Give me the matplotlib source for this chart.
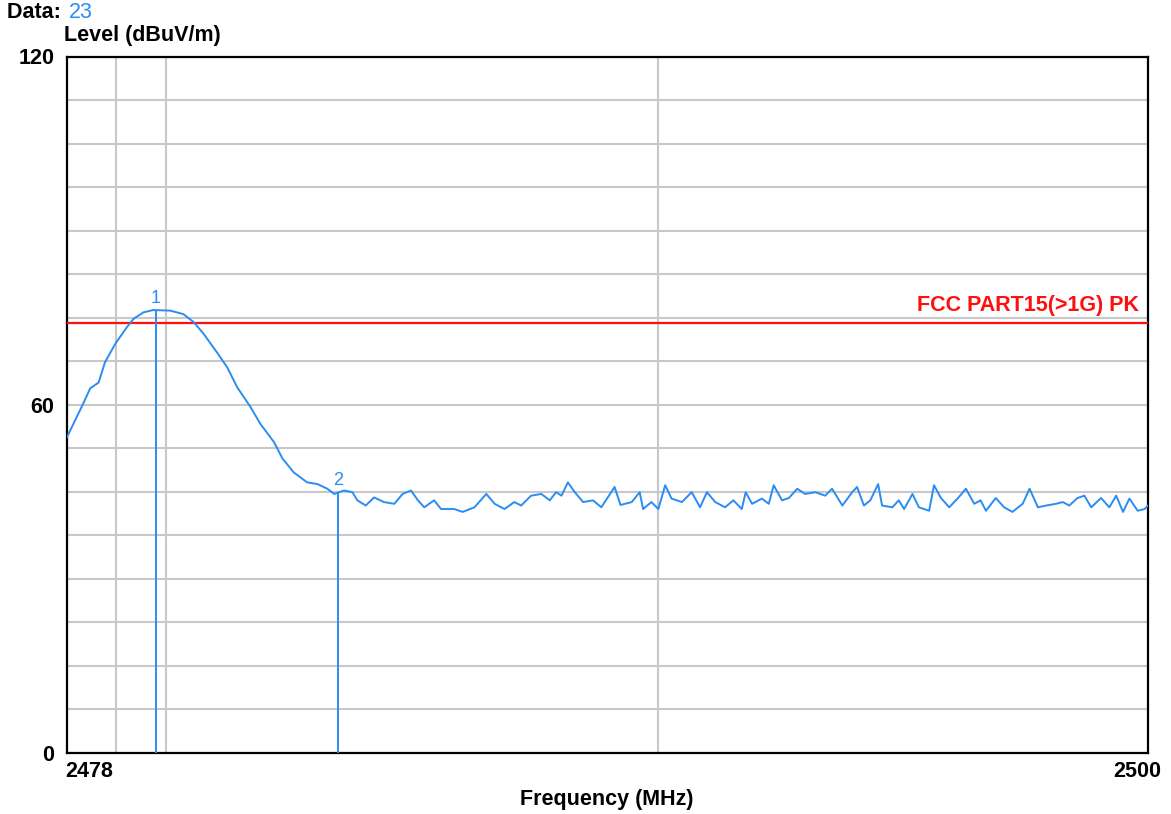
import matplotlib.pyplot as plt
from matplotlib.ticker import FixedLocator, NullLocator, NullFormatter
import numpy as np

plt.rcParams['font.family'] = ['Liberation Sans', 'DejaVu Sans']

# trace (MHz, dBuV/m)
freq = [2478.00, 2478.13, 2478.33, 2478.47, 2478.64, 2478.77, 2478.98, 2479.21,
        2479.35, 2479.55, 2479.75, 2480.09, 2480.36, 2480.57, 2480.77, 2481.04,
        2481.25, 2481.45, 2481.72, 2481.92, 2482.20, 2482.37, 2482.60, 2482.87,
        2483.08, 2483.28, 2483.42, 2483.62, 2483.79, 2483.89, 2484.06, 2484.23,
        2484.43, 2484.64, 2484.81, 2484.98, 2485.12, 2485.25, 2485.45, 2485.59,
        2485.86, 2486.03, 2486.27, 2486.51, 2486.68, 2486.88, 2487.08, 2487.22,
        2487.42, 2487.63, 2487.80, 2487.93, 2488.04, 2488.17, 2488.31, 2488.48,
        2488.68, 2488.85, 2489.12, 2489.24, 2489.47, 2489.63, 2489.70, 2489.87,
        2490.01, 2490.15, 2490.28, 2490.49, 2490.69, 2490.86, 2491.00, 2491.17,
        2491.37, 2491.54, 2491.71, 2491.79, 2491.92, 2492.12, 2492.26, 2492.36,
        2492.53, 2492.67, 2492.84, 2493.00, 2493.21, 2493.41, 2493.55, 2493.76,
        2493.96, 2494.06, 2494.20, 2494.33, 2494.49, 2494.57, 2494.78, 2494.91,
        2495.02, 2495.19, 2495.32, 2495.53, 2495.63, 2495.77, 2495.94, 2496.11,
        2496.28, 2496.45, 2496.58, 2496.69, 2496.89, 2497.06, 2497.23, 2497.44,
        2497.58, 2497.75, 2497.92, 2498.12, 2498.26, 2498.39, 2498.56, 2498.70,
        2498.84, 2499.04, 2499.21, 2499.35, 2499.49, 2499.62, 2499.79, 2499.93,
        2500.00]
level = [54.4, 56.7, 60.2, 62.8, 63.8, 67.3, 70.5, 73.3,
         74.8, 75.9, 76.3, 76.2, 75.6, 74.2, 72.2, 69.0,
         66.4, 63.0, 59.6, 56.7, 53.5, 50.7, 48.3, 46.6,
         46.3, 45.5, 44.6, 45.2, 44.9, 43.5, 42.6, 44.0,
         43.2, 42.9, 44.6, 45.2, 43.5, 42.3, 43.5, 42.0,
         42.0, 41.5, 42.3, 44.6, 42.9, 42.0, 43.2, 42.6,
         44.3, 44.6, 43.5, 44.9, 44.3, 46.6, 44.9, 43.2,
         43.5, 42.3, 45.8, 42.7, 43.2, 44.9, 42.0, 43.2,
         42.0, 46.1, 43.8, 43.2, 44.9, 42.3, 44.9, 43.2,
         42.3, 43.5, 42.0, 44.9, 42.9, 43.8, 42.9, 46.1,
         43.5, 43.9, 45.5, 44.6, 44.9, 44.3, 45.5, 42.6,
         44.9, 45.8, 42.6, 43.5, 46.3, 42.6, 42.3, 43.5,
         42.0, 44.6, 42.3, 41.7, 46.1, 43.9, 42.3, 43.8,
         45.5, 42.9, 43.5, 41.7, 43.9, 42.3, 41.5, 42.9,
         45.5, 42.3, 42.6, 42.9, 43.2, 42.6, 43.9, 44.3,
         42.3, 43.9, 42.3, 44.3, 41.5, 43.8, 41.7, 42.0,
         42.6]

marker_freq = [2479.80, 2483.50]
marker_level = [76.3, 44.8]
marker_names = ['1', '2']

limit_level = 74
limit_name = 'FCC PART15(>1G) PK'

x_min, x_max = 2478, 2500
y_min, y_max = 0, 120
x_grid = [2479, 2480, 2490]

blue = '#2b8cf2'
red = '#ff1010'
grid_c = '#c8c8c8'
fs = 15.5

W, H = 1171, 814
fig = plt.figure(figsize=(W / 100, H / 100), dpi=100)
ax = fig.add_axes([67 / W, 1 - 752.7 / H, (1148 - 67) / W, (752.7 - 56.5) / H])

ax.set_xscale('log')
ax.set_xlim(x_min, x_max)
ax.set_ylim(y_min, y_max)

ax.xaxis.set_major_locator(FixedLocator(x_grid))
ax.xaxis.set_minor_locator(NullLocator())
ax.xaxis.set_major_formatter(NullFormatter())
ax.xaxis.set_minor_formatter(NullFormatter())

yt = np.arange(0, 120.1, 7.5)
ax.set_yticks(yt)
ax.set_yticklabels(['%g' % v if v in (0, 60, 120) else '' for v in yt],
                   fontsize=fs, fontweight='bold')
ax.tick_params(axis='both', length=0)
ax.tick_params(axis='y', pad=9)
ax.grid(True, color=grid_c, lw=1.5)
ax.set_axisbelow(True)
for s in ax.spines.values():
    s.set_linewidth(1.6)
    s.set_color('black')

ax.axhline(limit_level, color=red, lw=1.6, zorder=3)
ax.text(0.992, limit_level + 1.2, limit_name, transform=ax.get_yaxis_transform(),
        color=red, fontsize=fs, fontweight='bold', ha='right', va='bottom')

ax.plot(freq, level, color=blue, lw=1.4, zorder=4)
ax.vlines(marker_freq, 0, marker_level, color=blue, lw=1.4, zorder=4)
for f, l, n in zip(marker_freq, marker_level, marker_names):
    ax.text(f, l + 0.6, n, color=blue, fontsize=13, ha='center', va='bottom')

fig.text(65 / W, 1 - 761 / H, '2478', fontsize=fs, fontweight='bold', ha='left', va='top')
fig.text(1161 / W, 1 - 761 / H, '2500', fontsize=fs, fontweight='bold', ha='right', va='top')
fig.text(607 / W, 1 - 800 / H, 'Frequency (MHz)', fontsize=fs, fontweight='bold',
         ha='center', va='center')
fig.text(64 / W, 1 - 36 / H, 'Level (dBuV/m)', fontsize=fs, fontweight='bold',
         ha='left', va='center')
t = fig.text(7 / W, 1 - 13 / H, 'Data: ', fontsize=fs, fontweight='bold',
             ha='left', va='center')
fig.text(69 / W, 1 - 13 / H, '23', fontsize=fs, color=blue, ha='left', va='center')

fig.savefig('out.png', dpi=100)
